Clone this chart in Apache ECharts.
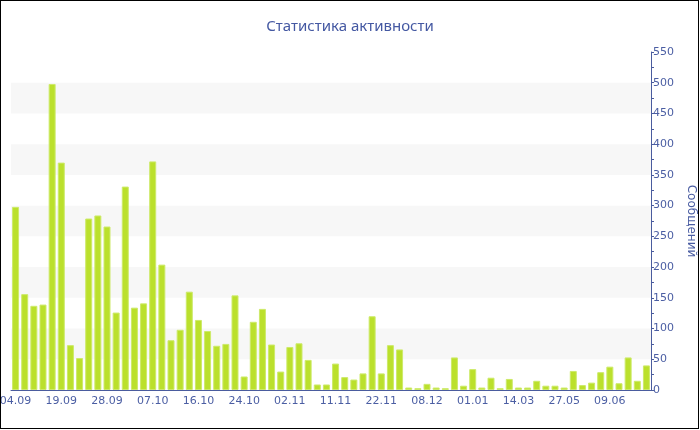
<!DOCTYPE html>
<html>
<head>
<meta charset="utf-8">
<script src="https://cdn.jsdelivr.net/npm/echarts@6/dist/echarts.min.js"></script>
<style>
  html, body { margin: 0; padding: 0; background: #fff; }
  #frame { position: absolute; left: 0; top: 0; width: 699px; height: 429px; box-sizing: border-box; border: 1px solid #000; }
  #chart { position: absolute; left: 0; top: 0; width: 700px; height: 430px; }
</style>
</head>
<body>
<div id="chart"></div>
<div id="frame"></div>
<script>
  // подписи оси X (каждый пятый столбец)
  var tickLabels = ['04.09', '19.09', '28.09', '07.10', '16.10', '24.10', '02.11',
                    '11.11', '22.11', '08.12', '01.01', '14.03', '27.05', '09.06'];

  // сообщений за день
  var messages = [
    298, 156, 137, 139, 498, 370, 73, 52, 279, 284,
    266, 126, 331, 134, 141, 372, 204, 81, 98, 160,
    114, 96, 72, 75, 154, 22, 111, 132, 74, 30,
    70, 76, 49, 9, 9, 43, 21, 17, 27, 120,
    27, 73, 66, 4, 3, 10, 4, 3, 53, 7,
    34, 4, 20, 3, 18, 4, 4, 15, 7, 7,
    4, 31, 8, 12, 29, 38, 11, 53, 15, 40
  ];

  var yTicks = { min: 0, max: 550, step: 50 };

  var categories = messages.map(function (v, i) {
    return i % 5 === 0 ? tickLabels[i / 5] : '';
  });

  var blue = '#4a5c9e';
  var chart = echarts.init(document.getElementById('chart'));
  var option = {
    animation: false,
    title: {
      text: 'Статистика активности',
      left: 'center',
      top: 14,
      textStyle: { color: '#4458a2', fontSize: 15, fontWeight: 'normal', fontFamily: 'Noto Sans' }
    },
    grid: { left: 11, right: 49, top: 52, bottom: 40, outerBoundsMode: 'none', containLabel: false },
    xAxis: {
      type: 'category',
      data: categories,
      axisLine: { lineStyle: { color: blue, width: 1 } },
      axisTick: { interval: 4, alignWithLabel: true, length: 4, lineStyle: { color: blue } },
      axisLabel: { interval: 4, color: '#4b5ea3', fontSize: 11, fontFamily: 'DejaVu Sans', margin: 6 },
      splitLine: { show: false }
    },
    yAxis: {
      type: 'value',
      position: 'right',
      min: yTicks.min,
      max: yTicks.max,
      interval: yTicks.step,
      name: 'Сообщений',
      nameLocation: 'middle',
      nameRotate: -90,
      nameGap: 32,
      nameTextStyle: { color: '#4b5ea3', fontSize: 12, fontFamily: 'DejaVu Sans' },
      axisLine: { show: true, lineStyle: { color: blue, width: 1 } },
      axisTick: { show: true, length: 3, lineStyle: { color: blue } },
      minorTick: { show: true, splitNumber: 2, length: 3, lineStyle: { color: blue } },
      axisLabel: { color: '#4b5ea3', fontSize: 11, fontFamily: 'DejaVu Sans', margin: 2 },
      splitLine: { show: false },
      splitArea: { show: true, areaStyle: { color: ['rgba(255,255,255,0)', '#f7f7f7'] } }
    },
    series: [{
      type: 'bar',
      data: messages,
      barWidth: 7,
      itemStyle: { color: '#bbe02c', borderColor: '#cdea6a', borderWidth: 1 }
    }]
  };
  chart.setOption(option);
</script>
</body>
</html>
